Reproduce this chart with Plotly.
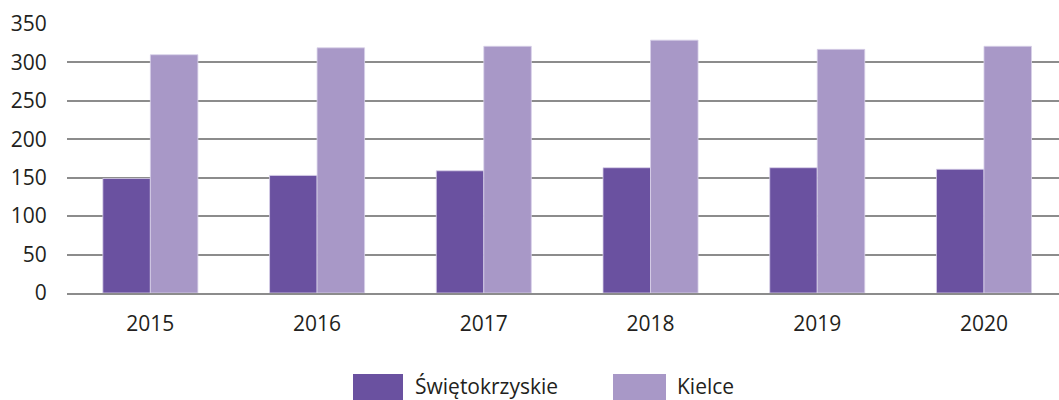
import plotly.graph_objects as go

years = ["2015", "2016", "2017", "2018", "2019", "2020"]
swietokrzyskie = [149, 153, 159, 163, 163, 161]
kielce = [310, 319, 321, 329, 317, 321]
series_names = ["Świętokrzyskie", "Kielce"]
colors = ["#6A51A0", "#A898C7"]
y_ticks = [0, 50, 100, 150, 200, 250, 300, 350]

FONT = "Open Sans"
TXT = "#231F20"

fig = go.Figure()
for name, vals, col in zip(series_names, [swietokrzyskie, kielce], colors):
    fig.add_trace(go.Bar(
        x=years, y=vals, name=name,
        marker=dict(color=col, line=dict(color="#D8D0E8", width=0.8)),
        showlegend=False,
    ))

# custom legend (swatches + labels) in pixel-like paper coordinates
W, H = 1059, 400
ml, mr, mt, mb = 67, 0, 24, 107
pw, ph = W - ml - mr, H - mt - mb

def px_x(x):
    return (x - ml) / pw

def px_y(y):
    return (H - mb - y) / ph

legend_items = [(353, 403, 413), (613, 666, 675)]
for (x0, x1, tx), name, col in zip(legend_items, series_names, colors):
    fig.add_shape(type="rect", xref="paper", yref="paper",
                  x0=px_x(x0), x1=px_x(x1), y0=px_y(400), y1=px_y(374),
                  fillcolor=col, line=dict(width=0))
    fig.add_annotation(xref="paper", yref="paper", x=px_x(tx), y=px_y(386),
                       text=name, showarrow=False, xanchor="left", yanchor="middle",
                       font=dict(family=FONT, size=21, color=TXT))

fig.update_layout(
    width=W, height=H,
    margin=dict(l=ml, r=mr, t=mt, b=mb, autoexpand=False),
    paper_bgcolor="white", plot_bgcolor="white",
    barmode="group", bargap=0.43, bargroupgap=0,
    font=dict(family=FONT, size=21, color=TXT),
    xaxis=dict(range=[-0.5, 5.45], showgrid=False, showline=True,
               linecolor="#8C8C8C", linewidth=1.5, automargin=False,
               ticks="outside", ticklen=11, tickcolor="rgba(0,0,0,0)",
               tickfont=dict(family=FONT, size=21, color=TXT)),
    yaxis=dict(range=[0, 350], tickvals=y_ticks, showgrid=True,
               gridcolor="#8C8C8C", gridwidth=1.5, zeroline=False, automargin=False,
               ticks="outside", ticklen=15, tickcolor="rgba(0,0,0,0)",
               tickfont=dict(family=FONT, size=21, color=TXT)),
)

fig.write_html("out.html", config={"displayModeBar": False},
               post_script="document.body.style.margin='0';document.body.style.overflow='hidden';")
